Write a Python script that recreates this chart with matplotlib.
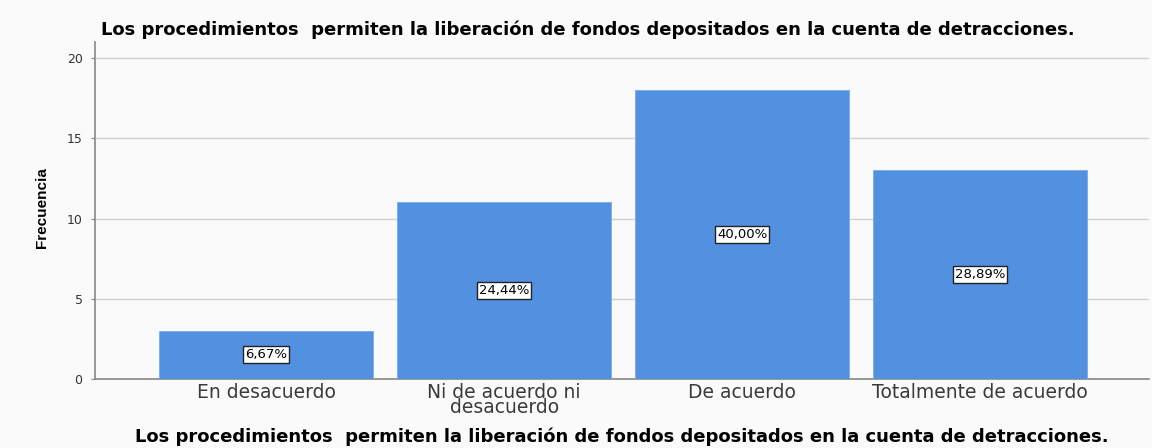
import matplotlib
matplotlib.use("Agg")
import matplotlib.pyplot as plt

categories = ["En desacuerdo", "Ni de acuerdo ni\ndesacuerdo", "De acuerdo", "Totalmente de acuerdo"]
counts = [3, 11, 18, 13]
percent_labels = ["6,67%", "24,44%", "40,00%", "28,89%"]
title = "Los procedimientos  permiten la liberación de fondos depositados en la cuenta de detracciones."

plt.rcParams['font.family'] = ['DejaVu Sans']

fig = plt.figure(figsize=(11.52, 4.48), dpi=100, facecolor="#fafafa")
ax = fig.add_axes([95/1152, 1 - 379/448, 1054/1152, 337/448])
ax.set_facecolor("#fafafa")

x = range(len(categories))
ax.bar(x, counts, width=0.9, color="#5291e0", edgecolor="#7aaae8", linewidth=0.6, zorder=3)

for i, (c, p) in enumerate(zip(counts, percent_labels)):
    ax.text(i, c / 2, p, ha="center", va="center", fontsize=9.5, zorder=4,
            bbox=dict(boxstyle="square,pad=0.15", fc="white", ec="#222222", lw=1.0))

ax.set_xlim(-0.72, 3.71)
ax.set_ylim(0, 21)
ax.set_yticks([0, 5, 10, 15, 20])
ax.yaxis.grid(True, color="#d0d0d0", lw=1.0, zorder=0)
ax.set_xticks(list(x))
ax.set_xticklabels(categories, fontsize=13.5, color="#3a3a3a", linespacing=0.75)
ax.tick_params(axis="x", length=0, pad=3)
ax.tick_params(axis="y", length=3, color="#888888", labelsize=9, labelcolor="#333333", pad=6)

for s in ["top", "right"]:
    ax.spines[s].set_visible(False)
for s in ["left", "bottom"]:
    ax.spines[s].set_color("#888888")
    ax.spines[s].set_linewidth(1.2)

fig.text(588/1152, 1 - 30/448, title, ha="center", va="center", fontsize=13, fontweight="bold")
fig.text(622/1152, 1 - 437/448, title, ha="center", va="center", fontsize=13, fontweight="bold")
fig.text(42/1152, 1 - 208/448, "Frecuencia", ha="center", va="center", rotation=90,
         fontsize=11, fontweight="bold", family=['Liberation Sans', 'DejaVu Sans'])

fig.savefig("out.png", dpi=100, facecolor=fig.get_facecolor())
